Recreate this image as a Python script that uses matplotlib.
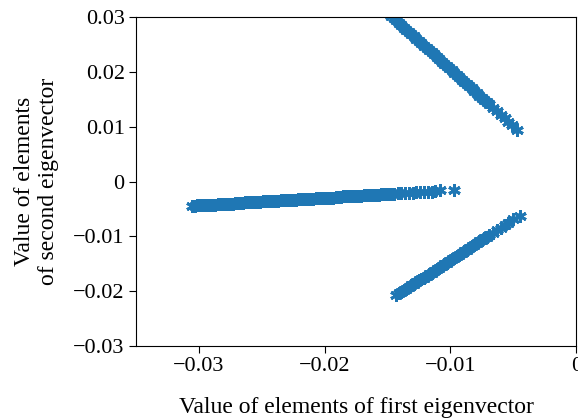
import matplotlib
matplotlib.use('Agg')
import matplotlib.pyplot as plt

plt.rcParams['font.family'] = ['Liberation Serif', 'DejaVu Serif']
plt.rcParams['font.size'] = 16

# upper arm
arm1_x = [-0.0147, -0.0145, -0.0143, -0.0141, -0.0139, -0.0137, -0.0135, -0.0133,
          -0.0131, -0.0129, -0.0127, -0.0125, -0.0123, -0.0121, -0.0119, -0.0117,
          -0.0115, -0.0113, -0.0111, -0.0109, -0.0107, -0.0105, -0.0103, -0.0101,
          -0.0099, -0.0097, -0.0095, -0.0093, -0.0091, -0.0089, -0.0087, -0.0085,
          -0.0083, -0.0081, -0.0079, -0.0077, -0.0075, -0.0073, -0.0071, -0.0069,
          -0.0066, -0.0063, -0.0060, -0.0057, -0.0054, -0.0051, -0.0047]
arm1_y = [0.0302, 0.0298, 0.0294, 0.0290, 0.0285, 0.0281, 0.0277, 0.0273,
          0.0269, 0.0265, 0.0261, 0.0256, 0.0252, 0.0248, 0.0244, 0.0240,
          0.0236, 0.0232, 0.0227, 0.0223, 0.0219, 0.0215, 0.0211, 0.0207,
          0.0203, 0.0198, 0.0194, 0.0190, 0.0186, 0.0182, 0.0178, 0.0174,
          0.0170, 0.0165, 0.0161, 0.0157, 0.0153, 0.0149, 0.0145, 0.0141,
          0.0134, 0.0128, 0.0122, 0.0116, 0.0109, 0.0103, 0.0095]

# middle arm
arm2_x = [-0.0305, -0.0303, -0.0301, -0.0299, -0.0297, -0.0295, -0.0293, -0.0291,
          -0.0289, -0.0287, -0.0285, -0.0283, -0.0281, -0.0279, -0.0277, -0.0275,
          -0.0273, -0.0271, -0.0269, -0.0267, -0.0265, -0.0263, -0.0261, -0.0259,
          -0.0257, -0.0255, -0.0253, -0.0251, -0.0249, -0.0247, -0.0245, -0.0243,
          -0.0241, -0.0239, -0.0237, -0.0235, -0.0233, -0.0231, -0.0229, -0.0227,
          -0.0225, -0.0223, -0.0221, -0.0219, -0.0217, -0.0215, -0.0213, -0.0211,
          -0.0209, -0.0207, -0.0205, -0.0203, -0.0201, -0.0199, -0.0197, -0.0195,
          -0.0193, -0.0191, -0.0189, -0.0187, -0.0185, -0.0183, -0.0181, -0.0179,
          -0.0177, -0.0175, -0.0173, -0.0171, -0.0169, -0.0167, -0.0165, -0.0163,
          -0.0161, -0.0159, -0.0157, -0.0155, -0.0153, -0.0151, -0.0149, -0.0147,
          -0.0145, -0.0142, -0.0139, -0.0136, -0.0133, -0.0130, -0.0127, -0.0124,
          -0.0121, -0.0118, -0.0115, -0.0112, -0.0108, -0.0097]
arm2_y = [-0.0044, -0.0044, -0.0043, -0.0043, -0.0043, -0.0043, -0.0042, -0.0042,
          -0.0042, -0.0042, -0.0041, -0.0041, -0.0041, -0.0040, -0.0040, -0.0040,
          -0.0040, -0.0039, -0.0039, -0.0039, -0.0039, -0.0038, -0.0038, -0.0038,
          -0.0037, -0.0037, -0.0037, -0.0037, -0.0036, -0.0036, -0.0036, -0.0035,
          -0.0035, -0.0035, -0.0035, -0.0034, -0.0034, -0.0034, -0.0034, -0.0033,
          -0.0033, -0.0033, -0.0032, -0.0032, -0.0032, -0.0032, -0.0031, -0.0031,
          -0.0031, -0.0030, -0.0030, -0.0030, -0.0030, -0.0029, -0.0029, -0.0029,
          -0.0029, -0.0028, -0.0028, -0.0028, -0.0027, -0.0027, -0.0027, -0.0027,
          -0.0026, -0.0026, -0.0026, -0.0026, -0.0025, -0.0025, -0.0025, -0.0024,
          -0.0024, -0.0024, -0.0024, -0.0023, -0.0023, -0.0023, -0.0022, -0.0022,
          -0.0022, -0.0021, -0.0021, -0.0021, -0.0020, -0.0020, -0.0019, -0.0019,
          -0.0019, -0.0018, -0.0018, -0.0017, -0.0016, -0.0015]

# lower arm
arm3_x = [-0.0143, -0.0141, -0.0139, -0.0137, -0.0135, -0.0133, -0.0131, -0.0129,
          -0.0127, -0.0125, -0.0123, -0.0121, -0.0119, -0.0117, -0.0115, -0.0113,
          -0.0111, -0.0109, -0.0107, -0.0105, -0.0103, -0.0101, -0.0099, -0.0097,
          -0.0095, -0.0093, -0.0091, -0.0089, -0.0087, -0.0085, -0.0083, -0.0081,
          -0.0079, -0.0077, -0.0075, -0.0073, -0.0071, -0.0069, -0.0066, -0.0063,
          -0.0060, -0.0057, -0.0054, -0.0050, -0.0045]
arm3_y = [-0.0207, -0.0204, -0.0201, -0.0198, -0.0195, -0.0192, -0.0189, -0.0186,
          -0.0183, -0.0180, -0.0177, -0.0175, -0.0172, -0.0169, -0.0166, -0.0163,
          -0.0160, -0.0157, -0.0154, -0.0151, -0.0148, -0.0145, -0.0142, -0.0139,
          -0.0136, -0.0133, -0.0130, -0.0127, -0.0124, -0.0121, -0.0118, -0.0115,
          -0.0112, -0.0109, -0.0106, -0.0103, -0.0101, -0.0098, -0.0093, -0.0089,
          -0.0084, -0.0080, -0.0075, -0.0069, -0.0062]

xticks = [-0.03, -0.02, -0.01, 0]
xtick_labels = ['\u22120.03', '\u22120.02', '\u22120.01', '0']
yticks = [-0.03, -0.02, -0.01, 0, 0.01, 0.02, 0.03]
ytick_labels = ['\u22120.03', '\u22120.02', '\u22120.01', '0', '0.01', '0.02', '0.03']

fig = plt.figure(figsize=(5.78, 4.19), dpi=100)
ax = fig.add_axes([0.235, 0.174, 0.762, 0.785])

for xs, ys in [(arm1_x, arm1_y), (arm2_x, arm2_y), (arm3_x, arm3_y)]:
    ax.plot(xs, ys, ls='', marker=(6, 2, 0), ms=9, mew=2.1, color='#1f77b4')

ax.set_xlim(-0.035, 0)
ax.set_ylim(-0.03, 0.03)
ax.set_xticks(xticks)
ax.set_xticklabels(xtick_labels)
ax.set_yticks(yticks)
ax.set_yticklabels(ytick_labels)
ax.tick_params(direction='out', length=5, pad=3)

ax.set_xlabel('Value of elements of first eigenvector', fontsize=17, labelpad=15)
ax.set_ylabel('Value of elements\nof second eigenvector', fontsize=17, labelpad=10)

fig.savefig('out.png', dpi=100)
